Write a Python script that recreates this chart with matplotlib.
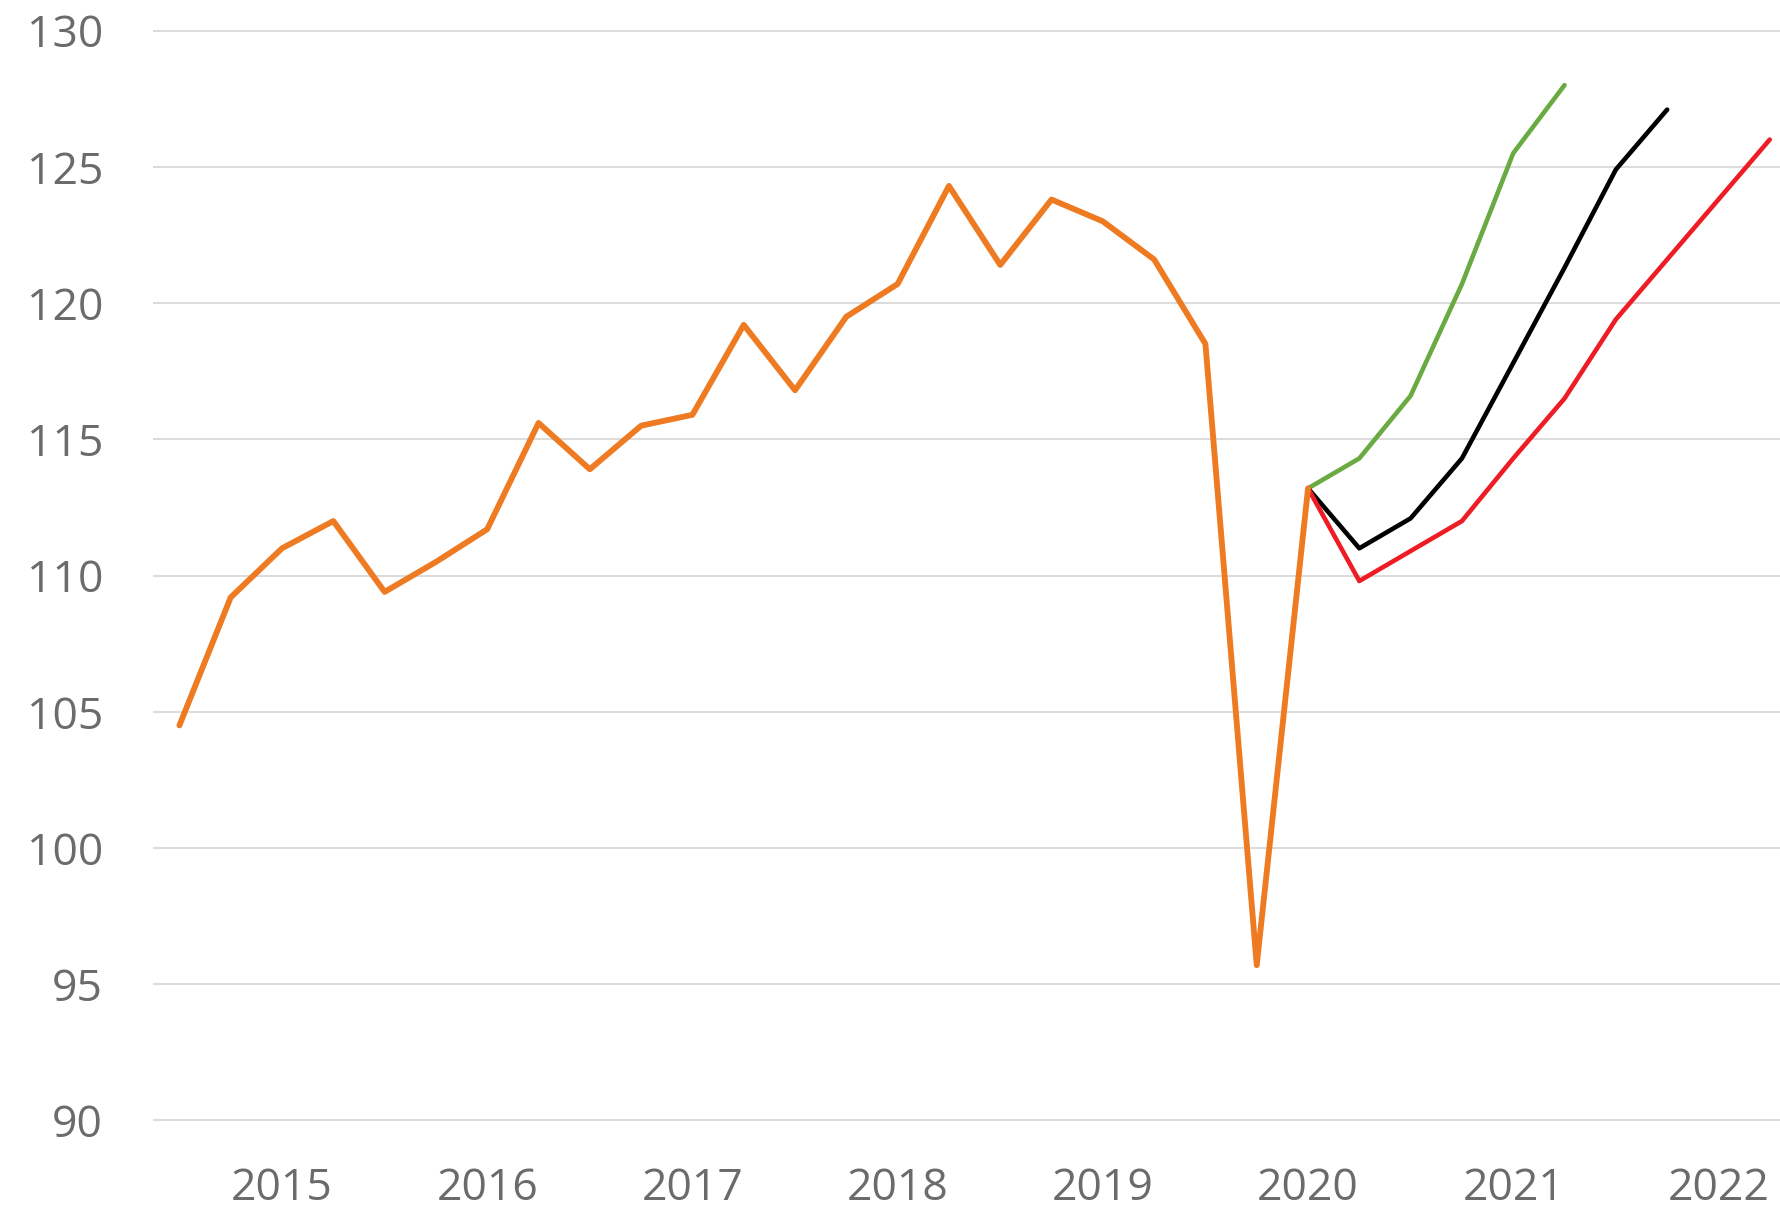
import matplotlib
matplotlib.use('Agg')
import matplotlib.pyplot as plt

# Quarterly index values
actual = [104.5, 109.2, 111.0, 112.0, 109.4, 110.5, 111.7, 115.6, 113.9, 115.5,
          115.9, 119.2, 116.8, 119.5, 120.7, 124.3, 121.4, 123.8, 123.0, 121.6,
          118.5, 95.7, 113.2]
green = [113.2, 114.3, 116.6, 120.7, 125.5, 128.0]
black = [113.2, 111.0, 112.1, 114.3, 117.8, 121.3, 124.9, 127.1]
red = [113.2, 109.8, 110.9, 112.0, 114.3, 116.5, 119.4, 121.6, 123.8, 126.0]

years = ['2015', '2016', '2017', '2018', '2019', '2020', '2021', '2022']
year_pos = [2 + 4 * i for i in range(len(years))]
yticks = [90, 95, 100, 105, 110, 115, 120, 125, 130]

start = len(actual) - 1
text_color = '#6b6b6b'

fig = plt.figure(figsize=(17.8, 12.15), dpi=100)
ax = fig.add_axes([153 / 1780, 0.0733, 1 - 153 / 1780, 0.906])

ax.plot(range(start, start + len(green)), green, color='#6aaa42', lw=3.3,
        solid_capstyle='round', solid_joinstyle='round', zorder=3)
ax.plot(range(start, start + len(black)), black, color='#000000', lw=3.3,
        solid_capstyle='round', solid_joinstyle='round', zorder=4)
ax.plot(range(start, start + len(red)), red, color='#ee1c25', lw=3.3,
        solid_capstyle='round', solid_joinstyle='round', zorder=5)
ax.plot(range(len(actual)), actual, color='#ee7a22', lw=4.2,
        solid_capstyle='round', solid_joinstyle='round', zorder=6)

ax.set_xlim(-0.515, 31.2)
ax.set_ylim(89.8, 130.2)
ax.set_yticks(yticks)
ax.set_yticklabels([str(v) for v in yticks])
ax.set_xticks(year_pos)
ax.set_xticklabels(years)

for s in ax.spines.values():
    s.set_visible(False)
ax.tick_params(axis='both', length=0, labelsize=32, labelcolor=text_color)
ax.tick_params(axis='y', pad=36)
ax.tick_params(axis='x', pad=29)
for lab in ax.get_xticklabels() + ax.get_yticklabels():
    lab.set_family('Open Sans')

ax.yaxis.grid(True, color='#dcdcdc', lw=1.4)
ax.set_axisbelow(True)

fig.savefig('out.png', dpi=100)
